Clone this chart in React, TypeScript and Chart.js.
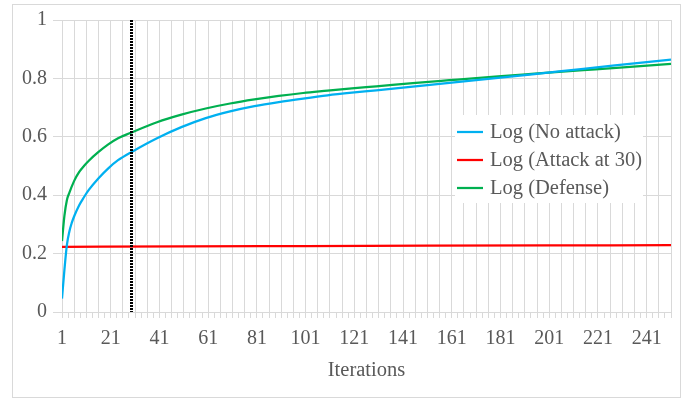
import React, { useEffect, useRef } from 'react';
import { Chart, registerables } from 'chart.js';

Chart.register(...registerables);

// Iterations (x) and values (y)
const NO_ATTACK_ITER = [1, 2, 3, 4, 5, 6, 8, 10, 12, 16, 20, 24, 30, 40, 50, 60, 70, 80, 90, 100, 110, 120, 130, 145, 160, 180, 195, 215, 230, 251];
const NO_ATTACK_VAL = [0.046, 0.145, 0.229, 0.275, 0.305, 0.328, 0.365, 0.393, 0.418, 0.458, 0.492, 0.52, 0.55, 0.595, 0.633, 0.664, 0.687, 0.705, 0.719, 0.731, 0.742, 0.751, 0.759, 0.772, 0.785, 0.802, 0.815, 0.833, 0.846, 0.864];

const ATTACK_ITER = [1, 51, 101, 151, 201, 251];
const ATTACK_VAL = [0.223, 0.225, 0.226, 0.227, 0.228, 0.229];

const DEFENSE_ITER = [1, 2, 3, 4, 6, 8, 10, 12, 16, 20, 24, 29, 40, 50, 60, 70, 80, 90, 100, 110, 120, 130, 145, 160, 180, 195, 215, 230, 251];
const DEFENSE_VAL = [0.243, 0.33, 0.383, 0.408, 0.449, 0.479, 0.5, 0.518, 0.548, 0.574, 0.595, 0.613, 0.65, 0.676, 0.697, 0.714, 0.728, 0.74, 0.75, 0.758, 0.766, 0.773, 0.784, 0.794, 0.807, 0.816, 0.828, 0.837, 0.85];

const SERIES_NAMES = ['Log (No attack)', 'Log (Attack at 30)', 'Log (Defense)'];
const SERIES_COLORS = ['#00B0F0', '#FF0000', '#00B050'];

const X_LABELS = [1, 21, 41, 61, 81, 101, 121, 141, 161, 181, 201, 221, 241];
const X_MIN = 1;
const X_MAX = 251;
const X_MINOR_STEP = 2.5;
const X_GRID_STEP = 5;
const Y_TICKS = [0, 0.2, 0.4, 0.6, 0.8, 1];
const ATTACK_MARK_X = 29.3;

const X_TITLE = 'Iterations';

const GRID = '#D9D9D9';
const TEXT = '#595959';
const FONT = '"Liberation Serif", "Times New Roman", serif';

const toPoints = (xs: number[], ys: number[]) => xs.map((x, i) => ({ x, y: ys[i] }));

const overlayPlugin = {
  id: 'overlay',
  afterDatasetsDraw(chart: any) {
    const { ctx, chartArea, scales } = chart;
    // dotted attack marker
    const x = Math.round(scales.x.getPixelForValue(ATTACK_MARK_X)) + 0.5;
    ctx.save();
    ctx.strokeStyle = '#000000';
    ctx.lineWidth = 3;
    ctx.setLineDash([2, 1]);
    ctx.beginPath();
    ctx.moveTo(x, Math.round(chartArea.top));
    ctx.lineTo(x, Math.round(chartArea.bottom));
    ctx.stroke();
    ctx.restore();

    // legend
    ctx.save();
    ctx.fillStyle = '#FFFFFF';
    ctx.fillRect(455, 115, 188, 88);
    ctx.font = `20.5px ${FONT}`;
    ctx.textBaseline = 'middle';
    ctx.textAlign = 'left';
    chart.data.datasets.forEach((ds: any, i: number) => {
      const y = 132 + i * 28;
      ctx.strokeStyle = ds.borderColor;
      ctx.lineWidth = 2.25;
      ctx.beginPath();
      ctx.moveTo(457, y);
      ctx.lineTo(483, y);
      ctx.stroke();
      ctx.fillStyle = TEXT;
      ctx.fillText(ds.label, 490, y + 1);
    });
    ctx.restore();
  },
  afterDraw(chart: any) {
    const { ctx } = chart;
    ctx.save();
    ctx.strokeStyle = GRID;
    ctx.lineWidth = 1;
    ctx.strokeRect(12.5, 4.5, 668, 393);
    ctx.restore();
  },
};

export default function App() {
  const ref = useRef<HTMLCanvasElement>(null);

  useEffect(() => {
    document.body.style.margin = '0';
    const canvas = ref.current;
    if (!canvas) return;
    const chart = new Chart(canvas, {
      type: 'line',
      data: {
        datasets: [
          { label: SERIES_NAMES[0], data: toPoints(NO_ATTACK_ITER, NO_ATTACK_VAL), borderColor: SERIES_COLORS[0] },
          { label: SERIES_NAMES[1], data: toPoints(ATTACK_ITER, ATTACK_VAL), borderColor: SERIES_COLORS[1] },
          { label: SERIES_NAMES[2], data: toPoints(DEFENSE_ITER, DEFENSE_VAL), borderColor: SERIES_COLORS[2] },
        ].map((d) => ({
          ...d,
          borderWidth: 2.25,
          pointRadius: 0,
          fill: false,
          cubicInterpolationMode: 'monotone' as const,
        })),
      },
      options: {
        responsive: false,
        animation: false,
        devicePixelRatio: 1,
        layout: { padding: { top: 20, right: 25, bottom: 17, left: 0 } },
        plugins: {
          legend: { display: false },
          tooltip: { enabled: false },
        },
        scales: {
          x: {
            type: 'linear',
            min: X_MIN,
            max: X_MAX,
            afterBuildTicks: (s: any) => {
              const t = [];
              for (let v = X_MIN; v <= X_MAX + 1e-9; v += X_MINOR_STEP) t.push({ value: v });
              s.ticks = t;
            },
            afterFit: (s: any) => {
              s.height = 71;
            },
            ticks: {
              autoSkip: false,
              maxRotation: 0,
              padding: 9,
              color: TEXT,
              font: { family: FONT, size: 20 },
              callback: (v: any) => (X_LABELS.includes(Number(v)) ? String(v) : ''),
            },
            grid: {
              color: (c: any) =>
                c.tick && Math.abs((c.tick.value - X_MIN) % X_GRID_STEP) < 1e-6 ? GRID : 'rgba(0,0,0,0)',
              tickColor: GRID,
              tickLength: 6,
              lineWidth: 1,
            },
            border: { display: true, color: GRID },
            title: {
              display: true,
              text: X_TITLE,
              color: TEXT,
              font: { family: FONT, size: 20.5 },
              padding: 0,
            },
          },
          y: {
            min: 0,
            max: 1,
            afterBuildTicks: (s: any) => {
              s.ticks = Y_TICKS.map((value) => ({ value }));
            },
            afterFit: (s: any) => {
              s.width = 62;
            },
            ticks: {
              padding: 6,
              color: TEXT,
              font: { family: FONT, size: 20 },
              callback: (v: any) => String(Math.round(Number(v) * 10) / 10),
            },
            grid: { color: GRID, tickLength: 9, lineWidth: 1 },
            border: { display: true, color: GRID },
          },
        },
      },
      plugins: [overlayPlugin],
    } as any);
    return () => chart.destroy();
  }, []);

  return (
    <div style={{ width: 696, height: 400, position: 'relative', background: '#FFFFFF' }}>
      <canvas ref={ref} width={696} height={400} style={{ display: 'block' }} />
    </div>
  );
}
